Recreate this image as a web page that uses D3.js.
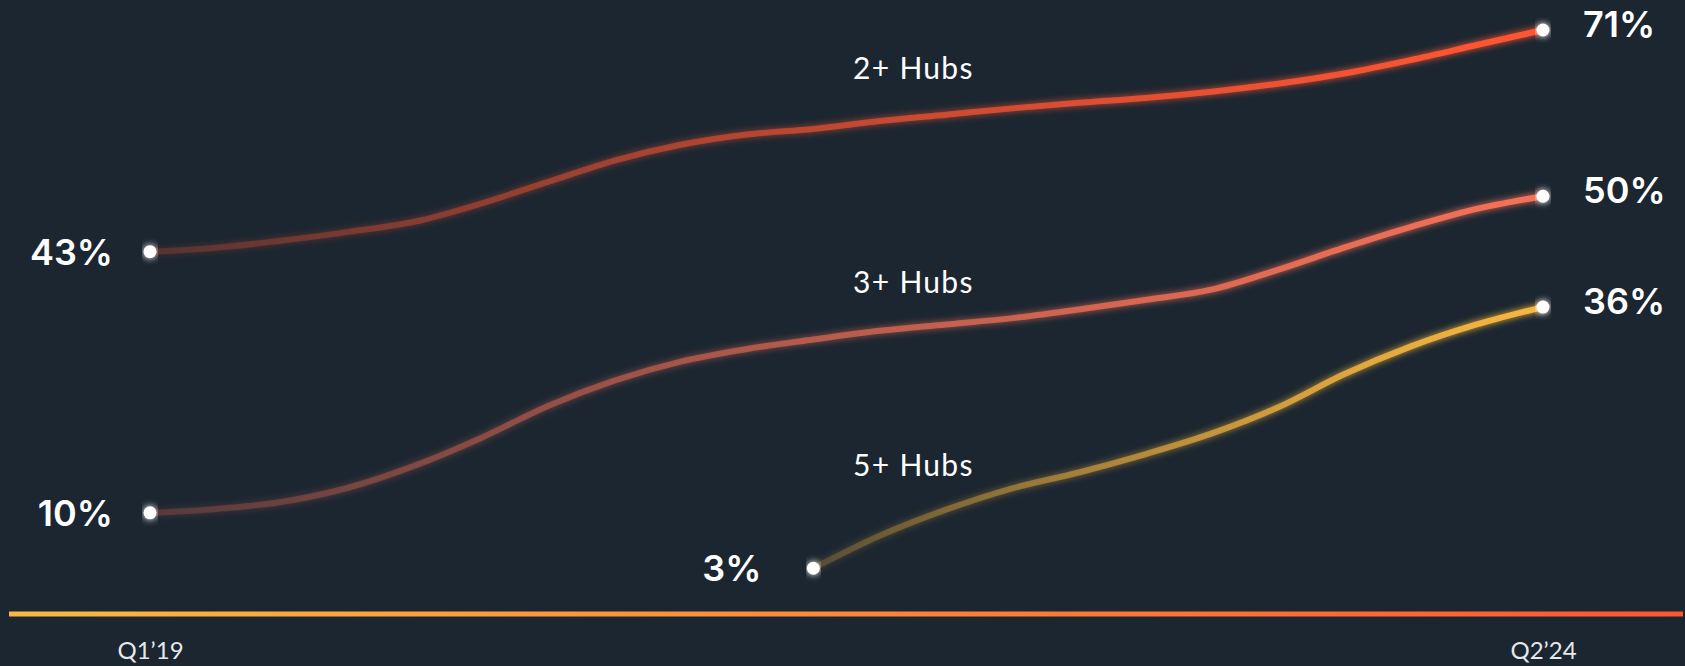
<!DOCTYPE html>
<html lang="en">
  <head>
    <meta charset="utf-8">
    <script src="https://cdn.jsdelivr.net/npm/d3@7"></script>
    <title>Hubs</title>
    <style>
      html, body { margin: 0; padding: 0; background: #1b2631; }
      svg { display: block; }
    </style>
  </head>
  <body>
    <script>

    // quarters Q1'19 .. Q2'24
    var quarters = ["Q1'19","Q2'19","Q3'19","Q4'19","Q1'20","Q2'20","Q3'20","Q4'20",
                    "Q1'21","Q2'21","Q3'21","Q4'21","Q1'22","Q2'22","Q3'22","Q4'22",
                    "Q1'23","Q2'23","Q3'23","Q4'23","Q1'24","Q2'24"];
    var tickLabels = ["Q1\u201919", "Q2\u201924"];

    var seriesNames = ["2+ Hubs", "3+ Hubs", "5+ Hubs"];
    var hubs2 = [43, 43.5, 44.4, 45.5, 46.8, 49.1, 51.8, 54.5, 56.5, 57.8, 58.5,
                 59.5, 60.3, 61.1, 61.8, 62.4, 63.2, 64.2, 65.5, 67.2, 69.1, 71];
    var hubs3 = [10, 10.5, 11.4, 13.2, 16.0, 19.5, 23.5, 26.7, 29.1, 30.7, 31.9,
                 33.0, 33.8, 34.6, 35.7, 36.9, 38.2, 40.7, 43.5, 46.1, 48.4, 50];
    var hubs5 = [null, null, null, null, null, null, null, null, null, null, 3,
                 7.1, 10.4, 13.1, 15.1, 17.4, 20.0, 23.3, 27.5, 31.0, 33.8, 36];
    // where the series names sit (value units)
    var nameAt = [64.8, 37.8, 14.6];

    var width = 1685, height = 666;
    var colors = ["#ff5632", "#f47157", "#f8b73f"];

    var x = d3.scalePoint().domain(quarters).range([150, 1543]);
    var y = d3.scaleLinear().domain([0, 71]).range([592, 30]);

    var svg = d3.select("body").append("svg")
        .attr("width", width)
        .attr("height", height);

    svg.append("rect").attr("width", width).attr("height", height).attr("fill", "#1b2631");

    var defs = svg.append("defs");

    var glow = defs.append("filter").attr("id", "glow")
        .attr("x", "-5%").attr("y", "-50%").attr("width", "110%").attr("height", "200%");
    glow.append("feGaussianBlur").attr("stdDeviation", 3.5).attr("result", "b");
    var merge = glow.append("feMerge");
    merge.append("feMergeNode").attr("in", "b");
    merge.append("feMergeNode").attr("in", "SourceGraphic");

    var series = [hubs2, hubs3, hubs5].map(function(vals, i) {
      return {
        name: seriesNames[i],
        color: colors[i],
        values: quarters.map(function(q, j) { return {q: q, v: vals[j]}; })
                        .filter(function(d) { return d.v != null; })
      };
    });

    series.forEach(function(s, i) {
      var first = s.values[0], last = s.values[s.values.length - 1];
      var g = defs.append("linearGradient").attr("id", "grad" + i)
          .attr("gradientUnits", "userSpaceOnUse")
          .attr("x1", x(first.q)).attr("x2", x(last.q)).attr("y1", 0).attr("y2", 0);
      g.append("stop").attr("offset", "0%").attr("stop-color", s.color).attr("stop-opacity", 0.18);
      g.append("stop").attr("offset", "100%").attr("stop-color", s.color).attr("stop-opacity", 1);
    });

    var axisGrad = defs.append("linearGradient").attr("id", "axisGrad")
        .attr("gradientUnits", "userSpaceOnUse")
        .attr("x1", 9).attr("x2", 1683).attr("y1", 0).attr("y2", 0);
    axisGrad.append("stop").attr("offset", "0%").attr("stop-color", "#fbb841");
    axisGrad.append("stop").attr("offset", "100%").attr("stop-color", "#ff5630");

    // baseline
    svg.append("line")
        .attr("x1", 9).attr("x2", 1683)
        .attr("y1", 614).attr("y2", 614)
        .attr("stroke", "url(#axisGrad)")
        .attr("stroke-width", 5);

    // only the first and last quarter are labelled
    var xAxis = d3.axisBottom(x)
        .tickValues([quarters[0], quarters[quarters.length - 1]])
        .tickFormat(function(d, i) { return tickLabels[i]; })
        .tickSize(0)
        .tickPadding(0);

    var ax = svg.append("g")
        .attr("transform", "translate(0,642)")
        .call(xAxis);
    ax.select(".domain").remove();
    ax.selectAll("text")
        .attr("fill", "#e6e8ea")
        .attr("font-family", "Lato, sans-serif")
        .attr("font-size", 24);

    var line = d3.line()
        .x(function(d) { return x(d.q); })
        .y(function(d) { return y(d.v); })
        .curve(d3.curveMonotoneX);

    series.forEach(function(s, i) {
      svg.append("path")
          .datum(s.values)
          .attr("fill", "none")
          .attr("stroke", "url(#grad" + i + ")")
          .attr("stroke-width", 6)
          .attr("stroke-linecap", "round")
          .attr("filter", "url(#glow)")
          .attr("d", line);
    });

    series.forEach(function(s, i) {
      var first = s.values[0], last = s.values[s.values.length - 1];

      svg.selectAll(".dot" + i)
          .data([first, last])
          .enter().append("circle")
          .attr("cx", function(d) { return x(d.q); })
          .attr("cy", function(d) { return y(d.v); })
          .attr("r", 6.5)
          .attr("fill", "#ffffff")
          .attr("filter", "url(#glow)");

      // start value, right aligned left of the dot
      svg.append("text")
          .attr("x", x(first.q) - (i == 2 ? 52 : 37))
          .attr("y", y(first.v))
          .attr("dy", "0.36em")
          .attr("text-anchor", "end")
          .attr("fill", "#ffffff")
          .attr("font-family", "Inter, sans-serif")
          .attr("font-weight", 600)
          .attr("font-size", 36)
          .text(first.v + "%");

      // end value
      svg.append("text")
          .attr("x", x(last.q) + 40)
          .attr("y", y(last.v) - 6)
          .attr("dy", "0.36em")
          .attr("fill", "#ffffff")
          .attr("font-family", "Inter, sans-serif")
          .attr("font-weight", 600)
          .attr("font-size", 36)
          .text(last.v + "%");

      // series name
      svg.append("text")
          .attr("x", 853)
          .attr("y", y(nameAt[i]))
          .attr("fill", "#ffffff")
          .attr("font-family", "Lato, sans-serif")
          .attr("font-size", 30)
          .attr("letter-spacing", 1.3)
          .text(s.name);
    });

    </script>
  </body>
</html>
